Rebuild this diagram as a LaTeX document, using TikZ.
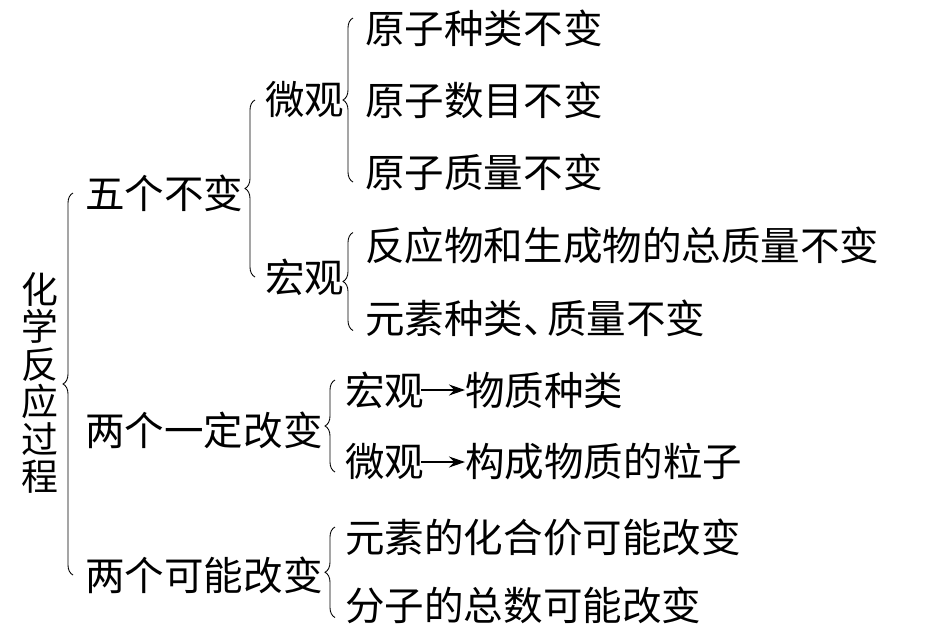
\documentclass[tikz,border=0pt]{standalone}
\usepackage{fontspec}
\newfontfamily\cjk{Noto Sans CJK SC}
\usetikzlibrary{decorations.pathreplacing,arrows.meta}

\begin{document}
\begin{tikzpicture}[x=0.02cm,y=-0.02cm,
  txt/.style={anchor=west,inner sep=0pt,font=\cjk\fontsize{22.5}{27}\selectfont},
  bracket/.style={decorate,decoration={brace,amplitude=0.2cm},line width=0.5pt},
  arr/.style={-{Stealth[length=0.32cm,width=0.22cm]},line width=0.7pt,shorten <=-2pt}]
\useasboundingbox (0,0) rectangle (951,637);
% root, written top to bottom
\node[inner sep=0pt,align=center,font=\cjk\fontsize{21}{21.3}\selectfont] (root) at (40,383) {化\\学\\反\\应\\过\\程};
% first level
\node[txt] (wubian) at (85,193) {五个不变};
\node[txt] (liangding) at (85,430) {两个一定改变};
\node[txt] (liangke) at (85,575) {两个可能改变};
% five unchanged
\node[txt] (weiguan) at (265,100) {微观};
\node[txt] (hongguan) at (265,277) {宏观};
\node[txt] (yuanzi1) at (365,28) {原子种类不变};
\node[txt] (yuanzi2) at (365,100) {原子数目不变};
\node[txt] (yuanzi3) at (365,172) {原子质量不变};
\node[txt] (fanying) at (365,245) {反应物和生成物的总质量不变};
\node[txt] (yuansu) at (365,318) {元素种类、\hspace{-0.4em}质量不变};
% two certain changes
\node[txt] (hong2) at (345,390) {宏观};
\node[txt] (zhonglei) at (465,390) {物质种类};
\node[txt] (wei2) at (345,462) {微观};
\node[txt] (lizi) at (465,462) {构成物质的粒子};
\draw[arr] (hong2) -- (zhonglei);
\draw[arr] (wei2) -- (lizi);
% two possible changes
\node[txt] (huahejia) at (345,537) {元素的化合价可能改变};
\node[txt] (fenzi) at (345,605) {分子的总数可能改变};
% braces
\coordinate (xa) at (73,0);
\coordinate (xb) at (255,0);
\coordinate (xc) at (353,0);
\coordinate (xd) at (335,0);
\draw[bracket] (liangke.west -| xa) -- (wubian.west -| xa);
\draw[bracket] (hongguan.west -| xb) -- (weiguan.west -| xb);
\draw[bracket] ([yshift=-0.2cm]yuanzi3.west -| xc) -- ([yshift=0.2cm]yuanzi1.west -| xc);
\draw[bracket] ([yshift=-0.25cm]yuansu.west -| xc) -- ([yshift=0.25cm]fanying.west -| xc);
\draw[bracket] ([yshift=-0.2cm]wei2.west -| xd) -- ([yshift=0.2cm]hong2.west -| xd);
\draw[bracket] ([yshift=-0.25cm]fenzi.west -| xd) -- ([yshift=0.2cm]huahejia.west -| xd);
\end{tikzpicture}
\end{document}
